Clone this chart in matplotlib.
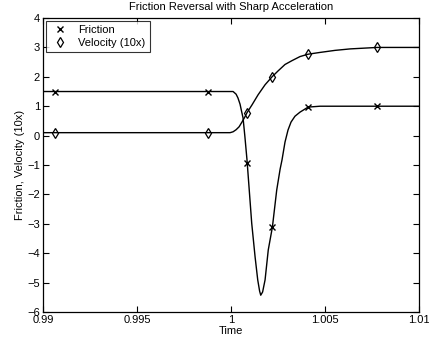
import matplotlib
matplotlib.use("Agg")
import matplotlib.pyplot as plt

# Friction curve (traced)
t_fric = [0.99, 0.99995, 1.00011, 1.00027, 1.00037, 1.00048, 1.00056, 1.00064,
          1.00074, 1.00085, 1.00097, 1.00110, 1.00128, 1.00142, 1.00152, 1.00158,
          1.00168, 1.00181, 1.00198, 1.00220, 1.00243, 1.00261, 1.00271, 1.00287,
          1.00303, 1.00319, 1.00340, 1.00367, 1.00410, 1.00473, 1.01]
friction = [1.5, 1.5, 1.5, 1.41, 1.28, 1.07, 0.83, 0.60,
            -0.05, -0.83, -1.86, -2.98, -4.13, -4.91, -5.29, -5.43,
            -5.32, -4.91, -3.89, -3.11, -1.85, -1.14, -0.83, -0.22,
            0.19, 0.46, 0.66, 0.80, 0.97, 1.0, 1.0]

# Velocity (10x) curve (traced)
t_vel = [0.99, 0.99995, 1.00011, 1.00027, 1.00043, 1.00059, 1.00074, 1.00085,
         1.00112, 1.00144, 1.00181, 1.00218, 1.00250, 1.00287, 1.00324, 1.00367,
         1.00410, 1.00473, 1.00553, 1.00633, 1.00777, 1.01]
velocity = [0.1, 0.1, 0.13, 0.2, 0.3, 0.47, 0.64, 0.78,
            1.05, 1.39, 1.73, 2.0, 2.2, 2.42, 2.55, 2.69,
            2.77, 2.83, 2.9, 2.95, 3.0, 3.0]

# Marker samples
t_mark = [0.99064, 0.99878, 1.00086, 1.00219, 1.00410, 1.00777]
fric_mark = [1.5, 1.5, -0.94, -3.11, 0.96, 1.0]
vel_mark = [0.1, 0.1, 0.78, 2.0, 2.77, 3.0]

x_ticks = [0.99, 0.995, 1.0, 1.005, 1.01]
x_tick_labels = ["0.99", "0.995", "1", "1.005", "1.01"]
y_ticks = [-6, -5, -4, -3, -2, -1, 0, 1, 2, 3, 4]

plt.rcParams['font.family'] = ['Liberation Sans', 'DejaVu Sans']
plt.rcParams['font.size'] = 8

fig = plt.figure(figsize=(4.29, 3.47), dpi=100)
ax = fig.add_axes([0.100, 0.101, 0.877, 0.847])

ax.plot(t_fric, friction, color='black', lw=1.0)
ax.plot(t_vel, velocity, color='black', lw=1.0)
ax.plot(t_mark, fric_mark, linestyle='none', marker='x', color='black',
        markersize=4.5, markeredgewidth=1.0, label='Friction')
ax.plot(t_mark, vel_mark, linestyle='none', marker='d', color='black',
        markerfacecolor='none', markersize=5.5, markeredgewidth=0.9,
        label='Velocity (10x)')

ax.set_xlim(0.99, 1.01)
ax.set_ylim(-6, 4)
ax.set_xticks(x_ticks)
ax.set_xticklabels(x_tick_labels)
ax.set_yticks(y_ticks)
ax.tick_params(direction='in', length=4, top=True, right=True, labelsize=8, pad=2)
for s in ax.spines.values():
    s.set_linewidth(0.9)

ax.set_title('Friction Reversal with Sharp Acceleration', fontsize=8, pad=6)
ax.set_xlabel('Time', fontsize=8, labelpad=1)
ax.set_ylabel('Friction, Velocity (10x)', fontsize=8, labelpad=2)

leg = ax.legend(loc='upper left', frameon=True, fancybox=False, shadow=False,
                borderpad=0.4, handlelength=1.7, handletextpad=0.8,
                labelspacing=0.25, borderaxespad=0.25, fontsize=8)
leg.get_frame().set_edgecolor('black')
leg.get_frame().set_linewidth(0.8)

fig.savefig('out.png', dpi=100)
